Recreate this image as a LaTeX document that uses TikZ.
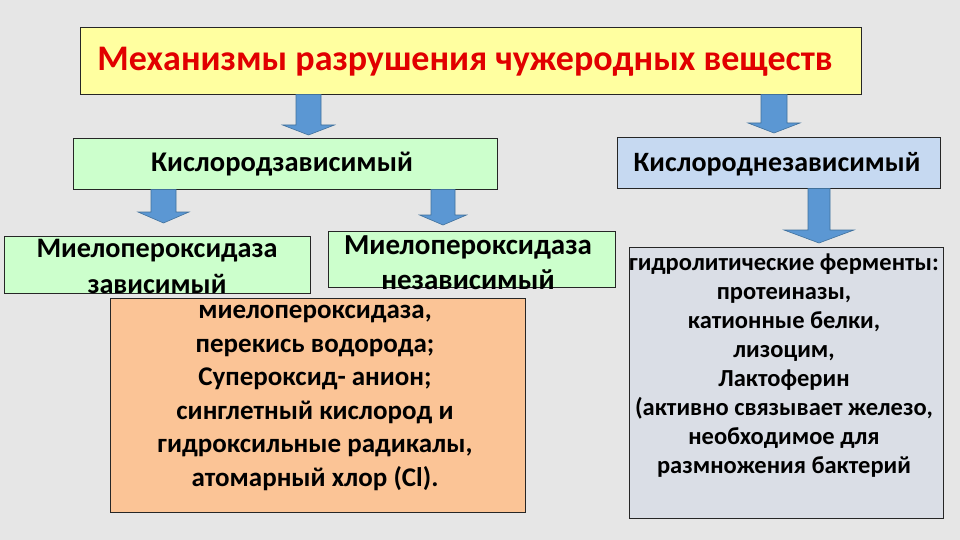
\documentclass[tikz,border=0pt]{standalone}
\usepackage{fontspec}
\setmainfont{Carlito}
\begin{document}
\begin{tikzpicture}[x=1pt,y=-1pt,
  box/.style={draw=black!85,line width=0.9pt,inner sep=0pt,anchor=north west},
  txt/.style={align=center,font=\bfseries,inner sep=0pt},
  barrow/.style={fill={rgb,255:red,91;green,151;blue,211},draw={rgb,255:red,65;green,113;blue,156},line width=0.6pt,line join=miter}]
\definecolor{bg}{RGB}{230,230,230}
\definecolor{ttl}{RGB}{255,255,160}
\definecolor{grn}{RGB}{204,255,204}
\definecolor{blu}{RGB}{198,217,241}
\definecolor{org}{RGB}{251,196,150}
\definecolor{gry}{RGB}{218,222,230}
\definecolor{rd}{RGB}{225,0,0}
\fill[bg] (0,0) rectangle (960,540);
\useasboundingbox (0,0) rectangle (960,540);
% boxes
\node[box,fill=ttl,minimum width=781pt,minimum height=67pt] (title) at (80,27) {};
\node[box,fill=grn,minimum width=424pt,minimum height=51pt] (kz) at (73,138) {};
\node[box,fill=blu,minimum width=323pt,minimum height=51pt] (knz) at (617,137) {};
\node[box,fill=grn,minimum width=306pt,minimum height=57pt] (mz) at (4,236) {};
\node[box,fill=grn,minimum width=287pt,minimum height=56pt] (mnz) at (328,231) {};
\node[box,fill=org,minimum width=415pt,minimum height=214pt] (orb) at (110,298) {};
\node[box,fill=gry,minimum width=314pt,minimum height=271pt] (grb) at (629,247) {};
% texts
\node[txt,text=rd,font=\bfseries\fontsize{36}{42}\selectfont] (titlet) at (465,62) {Механизмы разрушения чужеродных веществ};
\node[txt,font=\bfseries\fontsize{28.5}{34}\selectfont] (kzt) at (282,164) {Кислородзависимый};
\node[txt,font=\bfseries\fontsize{28}{34}\selectfont] (knzt) at (777,164) {Кислороднезависимый};
\node[txt,font=\bfseries\fontsize{28.2}{36}\selectfont] (mzt) at (157,266) {Миелопероксидаза\\зависимый};
\node[txt,font=\bfseries\fontsize{29}{35}\selectfont] (mnzt) at (468,263) {Миелопероксидаза\\независимый};
\node[txt,font=\bfseries\fontsize{27}{33.5}\selectfont] (ort) at (315,398) {миелопероксидаза,\\перекись водорода;\\Супероксид- анион;\\синглетный кислород и\\гидроксильные радикалы,\\атомарный хлор (Cl).};
\node[txt,font=\bfseries\fontsize{24.5}{29}\selectfont] (grt) at (784,366) {гидролитические ферменты:\\протеиназы,\\катионные белки,\\лизоцим,\\Лактоферин\\(активно связывает железо,\\необходимое для\\размножения бактерий};
% block arrows
\newcommand{\barr}[7]{% x, ytop, yhead, ytip, shaft half, head half
  \draw[barrow] (#1-#5,#2) -- (#1+#5,#2) -- (#1+#5,#3) -- (#1+#6,#3) -- (#1,#4) -- (#1-#6,#3) -- (#1-#5,#3) -- cycle;}
\barr{308.5}{94.5}{125}{135}{12.5}{26}{}
\barr{774}{94.5}{123}{133}{13}{26}{}
\barr{163.5}{189.5}{212}{223}{12.5}{25.5}{}
\barr{443}{189.5}{215}{225}{12}{23.5}{}
\barr{819}{188.5}{230}{243}{11}{35}{}
\end{tikzpicture}
\end{document}
